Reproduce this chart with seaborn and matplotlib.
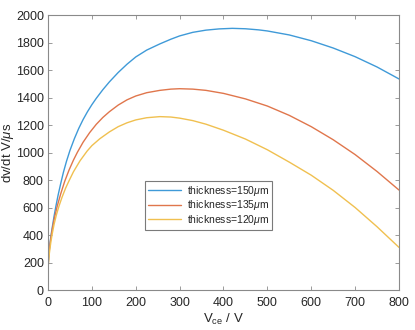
import numpy as np
import pandas as pd
import matplotlib
matplotlib.use("Agg")
import matplotlib.pyplot as plt
import seaborn as sns

# Collector-emitter voltage (V) and dv/dt (V/us) for three die thicknesses
v_150 = [0, 1, 2, 3, 5, 7, 10, 14, 18, 23, 29, 35, 42, 50, 60, 70, 80, 90,
         100, 110, 125, 140, 160, 180, 200, 225, 255, 280, 300, 330, 360, 390,
         420, 450, 480, 500, 550, 600, 650, 700, 750, 800]
dvdt_150 = [145, 215, 262, 300, 352, 400, 462, 540, 610, 690, 775, 855, 935,
            1015, 1100, 1175, 1240, 1297, 1348, 1394, 1457, 1514, 1582, 1642,
            1695, 1745, 1790, 1824, 1848, 1874, 1890, 1899, 1903, 1900, 1892,
            1884, 1855, 1813, 1760, 1697, 1622, 1535]

v_135 = [0, 1, 2, 3, 5, 7, 10, 15, 21, 29, 38, 48, 58, 67, 80, 95, 110, 125,
         140, 160, 180, 200, 225, 255, 280, 300, 330, 360, 400, 450, 500, 550,
         600, 650, 700, 750, 800]
dvdt_135 = [145, 212, 255, 290, 345, 390, 448, 530, 610, 700, 790, 873, 945,
            1002, 1075, 1145, 1205, 1255, 1297, 1345, 1383, 1411, 1435, 1452,
            1461, 1464, 1461, 1452, 1430, 1390, 1338, 1270, 1188, 1093, 985,
            862, 727]

v_120 = [0, 1, 2, 3, 5, 7, 10, 14, 19, 25, 32, 40, 48, 58, 73, 89, 100, 118,
         140, 160, 180, 200, 225, 255, 280, 300, 330, 360, 400, 450, 500, 550,
         600, 650, 700, 750, 800]
dvdt_120 = [145, 200, 235, 265, 315, 360, 415, 480, 545, 610, 675, 740, 795,
            860, 940, 1010, 1050, 1100, 1150, 1188, 1216, 1237, 1253, 1261,
            1258, 1250, 1232, 1206, 1162, 1098, 1020, 930, 835, 725, 600, 460,
            310]

labels = [r"thickness=150$\mu$m", r"thickness=135$\mu$m", r"thickness=120$\mu$m"]
colors = ["#3f9ad8", "#e0764c", "#f0c050"]

frames = []
for lab, v, d in zip(labels, [v_150, v_135, v_120], [dvdt_150, dvdt_135, dvdt_120]):
    frames.append(pd.DataFrame({"V": v, "dvdt": d, "series": lab}))
df = pd.concat(frames, ignore_index=True)

sns.set_style("white")
plt.rcParams["font.family"] = ["Liberation Sans", "DejaVu Sans"]
plt.rcParams["mathtext.fontset"] = "custom"
plt.rcParams["mathtext.rm"] = "Liberation Sans"
plt.rcParams["mathtext.it"] = "Liberation Sans:italic"

fig = plt.figure(figsize=(4.15, 3.30), dpi=100)
ax = fig.add_axes([0.1157, 0.1212, 0.8457, 0.8333])

sns.lineplot(data=df, x="V", y="dvdt", hue="series", palette=colors,
             hue_order=labels, linewidth=1.0, ax=ax, legend=False, sort=True)

ax.set_xlim(0, 800)
ax.set_ylim(0, 2000)
ax.set_xticks(np.arange(0, 801, 100))
ax.set_yticks(np.arange(0, 2001, 200))

text_c = "#262626"
spine_c = "#8a8a8a"
for s in ax.spines.values():
    s.set_visible(True)
    s.set_color(spine_c)
    s.set_linewidth(0.8)
ax.tick_params(direction="in", length=3, width=0.6, color=spine_c,
               labelsize=9, labelcolor=text_c, top=True, right=True,
               bottom=True, left=True, pad=3)
ax.tick_params(axis="x", pad=5)

ax.set_xlabel(r"V$_{\rm ce}$ / V", fontsize=9.5, color=text_c, labelpad=2)
ax.set_ylabel(r"dv/dt V/$\mu$s", fontsize=9.5, color=text_c, labelpad=0)

handles = [plt.Line2D([], [], color=c, lw=1.0) for c in colors]
leg = ax.legend(handles, labels, loc="lower left",
                bbox_to_anchor=(0.276, 0.218), fontsize=7.5, frameon=True,
                fancybox=False, edgecolor="#7a7a7a", framealpha=1,
                handlelength=3.2, handletextpad=0.5, borderpad=0.3,
                labelspacing=0.05, borderaxespad=0)
leg.get_frame().set_linewidth(0.8)
for t in leg.get_texts():
    t.set_color(text_c)

fig.savefig("out.png", dpi=100)
